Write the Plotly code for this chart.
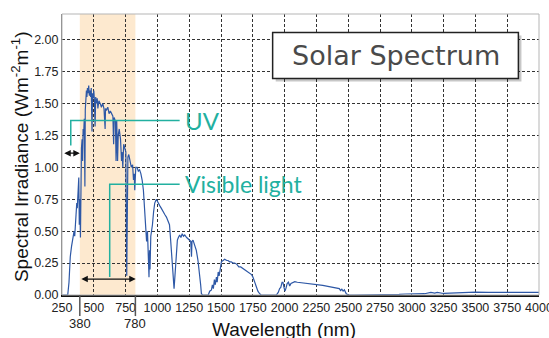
import plotly.graph_objects as go

# ---- data ----
wavelength = [250, 280, 295, 305, 315, 325, 335, 345, 350, 355, 362, 366, 370, 375, 378, 382, 386, 390, 395,
              398, 403, 408, 412, 416, 420, 425, 430, 433, 438, 442, 446, 450, 455, 460, 465, 470, 475, 480,
              486, 490, 495, 500, 505, 510, 515, 520, 527, 532, 540, 550, 560, 570, 580, 589, 592, 600, 610,
              620, 630, 640, 650, 656, 660, 670, 675, 680, 687, 692, 700, 710, 718, 722, 728, 735, 745, 752,
              759, 763, 768, 775, 785, 795, 805, 812, 818, 822, 830, 840, 850, 860, 870, 880, 890, 900, 910,
              915, 922, 928, 934, 938, 942, 948, 955, 961, 970, 979, 992, 1005, 1018, 1030, 1044, 1058, 1071,
              1085, 1095, 1102, 1110, 1118, 1125, 1131, 1138, 1144, 1150, 1157, 1165, 1175, 1185, 1195, 1205,
              1215, 1230, 1241, 1255, 1262, 1268, 1272, 1280, 1292, 1306, 1319, 1326, 1333, 1340, 1346, 1355,
              1400, 1411, 1425, 1432, 1440, 1448, 1455, 1464, 1470, 1478, 1485, 1490, 1497, 1503, 1515, 1529,
              1545, 1555, 1568, 1580, 1595, 1608, 1625, 1640, 1655, 1670, 1686, 1700, 1712, 1725, 1740, 1751,
              1765, 1778, 1790, 1804, 1815, 1935, 1950, 1961, 1970, 1980, 1987, 1995, 2003, 2010, 2020, 2030,
              2040, 2050, 2065, 2080, 2100, 2150, 2200, 2250, 2300, 2350, 2400, 2430, 2440, 2450, 2460, 2470,
              2485, 2500, 2550, 2700, 2900, 2950, 3000, 3050, 3100, 3150, 3180, 3200, 3250, 3300, 3350, 3400,
              3500, 3600, 3700, 3800, 3900, 4000]
irradiance = [0, 0, 0, 0.10, 0.30, 0.38, 0.45, 0.50, 0.46, 0.58, 0.62, 0.72, 0.68, 0.87, 0.78, 0.92, 0.55, 0.75, 0.45,
              1.00, 1.15, 1.22, 1.05, 1.30, 1.25, 1.38, 0.85, 1.45, 1.52, 1.60, 1.55, 1.62, 1.58, 1.64, 1.56, 1.60, 1.55, 1.62,
              1.28, 1.58, 1.54, 1.60, 1.52, 1.32, 1.55, 1.50, 1.54, 1.46, 1.52, 1.50, 1.47, 1.50, 1.46, 1.30, 1.46, 1.45, 1.47,
              1.42, 1.44, 1.42, 1.40, 1.18, 1.39, 1.36, 1.05, 1.37, 1.05, 1.25, 1.30, 1.22, 1.05, 1.12, 1.00, 1.18, 1.15, 1.12,
              0.15, 0.60, 1.08, 1.10, 1.05, 1.00, 1.02, 0.90, 0.95, 0.82, 1.00, 1.00, 0.97, 0.98, 0.95, 0.90, 0.82, 0.68, 0.55,
              0.42, 0.50, 0.30, 0.14, 0.35, 0.20, 0.46, 0.50, 0.55, 0.65, 0.72, 0.75, 0.72, 0.70, 0.68, 0.66, 0.63, 0.61,
              0.58, 0.55, 0.46, 0.35, 0.22, 0.12, 0.05, 0.15, 0.27, 0.35, 0.43, 0.45, 0.47, 0.45, 0.48, 0.46,
              0.47, 0.45, 0.44, 0.43, 0.42, 0.30, 0.42, 0.43, 0.40, 0.35, 0.27, 0.22, 0.17, 0.08, 0.01, 0,
              0, 0.03, 0.04, 0.08, 0.05, 0.12, 0.08, 0.14, 0.10, 0.18, 0.15, 0.20, 0.22, 0.26, 0.27, 0.28,
              0.27, 0.27, 0.26, 0.26, 0.25, 0.25, 0.24, 0.22, 0.22, 0.21, 0.20, 0.19, 0.18, 0.17, 0.16, 0.14,
              0.10, 0.06, 0.03, 0.01, 0, 0, 0.02, 0.05, 0.06, 0.10, 0.10, 0.06, 0.03, 0.05, 0.09, 0.10,
              0.07, 0.09, 0.10, 0.105, 0.10, 0.095, 0.09, 0.083, 0.075, 0.065, 0.055, 0.05, 0.035, 0.045, 0.03, 0.04,
              0.01, 0, 0, 0, 0.005, 0.008, 0.01, 0.012, 0.01, 0.02, 0.015, 0.02, 0.012, 0.015, 0.018, 0.02,
              0.022, 0.02, 0.018, 0.02, 0.02, 0.02]

x_ticks = list(range(250, 4001, 250))
x_tick_labels = [str(v) for v in x_ticks]
y_ticks = [0, 0.25, 0.5, 0.75, 1.0, 1.25, 1.5, 1.75, 2.0]
y_tick_labels = ["%.2f" % v for v in y_ticks]

band_edges = [390, 827]          # visible band as drawn
band_labels = ["380", "780"]

TEAL = "#22b0a0"
BLUE = "#2e58a6"
NARROW = "Liberation Sans Narrow, Arial Narrow, sans-serif"

fig = go.Figure()
fig.add_trace(go.Scatter(x=wavelength, y=irradiance, mode="lines",
                         line=dict(color=BLUE, width=1.2), showlegend=False, hoverinfo="skip"))

shapes = []
shapes.append(dict(type="rect", xref="x", yref="paper", x0=band_edges[0], x1=band_edges[1], y0=0, y1=1,
                   fillcolor="#fde9cf", line=dict(width=0), layer="below"))
shapes.append(dict(type="rect", xref="paper", yref="paper", x0=0, x1=1, y0=0, y1=1,
                   line=dict(color="#b5b5b5", width=1), layer="above"))
for e in band_edges:
    shapes.append(dict(type="line", xref="x", yref="paper", x0=e, x1=e, y0=0, y1=-0.075,
                       line=dict(color="#555555", width=1.5), layer="above"))
shapes.append(dict(type="path", xref="x", yref="y", path="M 319,1.17 L 319,1.367 L 1175,1.367",
                   line=dict(color=TEAL, width=1.5), layer="above"))
shapes.append(dict(type="path", xref="x", yref="y", path="M 625,0.14 L 625,0.867 L 1175,0.867",
                   line=dict(color=TEAL, width=1.5), layer="above"))
shapes.append(dict(type="rect", xref="x", yref="y", x0=1930, x1=3862, y0=1.672, y1=2.032,
                   fillcolor="rgba(0,0,0,0.22)", line=dict(width=0), layer="above"))
shapes.append(dict(type="rect", xref="x", yref="y", x0=1906, x1=3838, y0=1.695, y1=2.055,
                   fillcolor="white", line=dict(color="#222222", width=1.5), layer="above"))

annotations = []
for e, lab in zip(band_edges, band_labels):
    annotations.append(dict(x=e, y=-0.103, xref="x", yref="paper", text=lab, showarrow=False,
                            yanchor="middle", font=dict(family=NARROW, size=13, color="#222")))
annotations.append(dict(x=390, y=1.11, ax=256, ay=1.11, xref="x", yref="y", axref="x", ayref="y",
                        text="", showarrow=True, arrowhead=2, arrowside="end+start", arrowsize=1,
                        arrowwidth=1.3, arrowcolor="#111"))
annotations.append(dict(x=830, y=0.125, ax=390, ay=0.125, xref="x", yref="y", axref="x", ayref="y",
                        text="", showarrow=True, arrowhead=2, arrowside="end+start", arrowsize=1,
                        arrowwidth=1.3, arrowcolor="#111"))
annotations.append(dict(x=1199, y=1.367, xref="x", yref="y", text="UV", showarrow=False,
                        xanchor="left", yanchor="middle", font=dict(family="Lato", size=24, color=TEAL)))
annotations.append(dict(x=1199, y=0.867, xref="x", yref="y", text="Visible light", showarrow=False,
                        xanchor="left", yanchor="middle", font=dict(family="Lato", size=23, color=TEAL)))
annotations.append(dict(x=2872, y=1.875, xref="x", yref="y", text="Solar Spectrum", showarrow=False,
                        xanchor="center", yanchor="middle", font=dict(family="DejaVu Sans", size=27, color="#4a4a4a")))
annotations.append(dict(x=0.465, y=-0.122, xref="paper", yref="paper", text="Wavelength (nm)", showarrow=False,
                        xanchor="center", yanchor="middle", font=dict(family="Liberation Sans", size=19, color="#111")))
annotations.append(dict(x=-0.088, y=0.491, xref="paper", yref="paper",
                        text="Spectral Irradiance (Wm<sup>-2</sup>m<sup>-1</sup>)", showarrow=False, textangle=-90,
                        xanchor="center", yanchor="middle", font=dict(family="Liberation Sans", size=19, color="#111")))

fig.update_layout(
    template="none",
    width=549, height=338,
    margin=dict(l=62, r=10, t=14, b=43, autoexpand=False),
    paper_bgcolor="white", plot_bgcolor="white",
    shapes=shapes, annotations=annotations,
    xaxis=dict(range=[250, 4000], tickvals=x_ticks, ticktext=x_tick_labels, automargin=False,
               ticklabeloverflow="allow",
               showgrid=True, gridcolor="#333333", gridwidth=1, griddash="3px,2px",
               showline=True, linecolor="#111111", linewidth=2, ticks="", zeroline=False,
               tickfont=dict(family=NARROW, size=12.5, color="#222")),
    yaxis=dict(range=[0, 2.2], tickvals=y_ticks, ticktext=y_tick_labels, automargin=False,
               showgrid=True, gridcolor="#333333", gridwidth=1, griddash="3px,2px",
               showline=True, linecolor="#777777", linewidth=1, ticks="", zeroline=False,
               tickfont=dict(family=NARROW, size=12.5, color="#222")),
)

fig.write_html("out.html", config={"displayModeBar": False, "staticPlot": True},
               post_script="document.body.style.margin='0';document.body.style.padding='0';document.body.style.overflow='hidden';")
